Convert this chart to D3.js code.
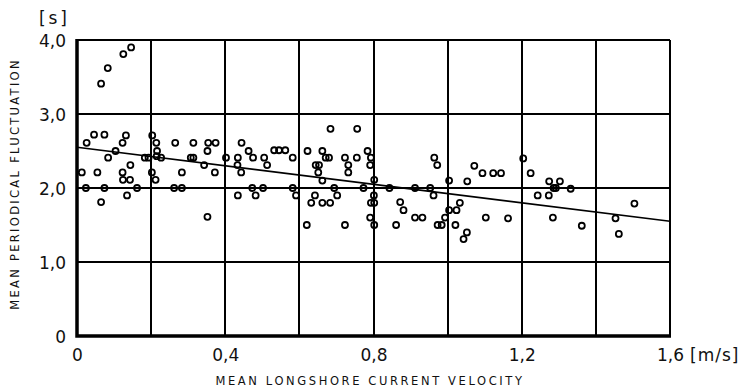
<!DOCTYPE html>
<html>
<head>
<meta charset="utf-8">
<script src="https://cdn.jsdelivr.net/npm/d3@7"></script>
<style>
  body { margin: 0; background: #fff; }
  svg { display: block; font-family: "DejaVu Sans", sans-serif; }
</style>
</head>
<body>
<svg id="chart" width="740" height="392"></svg>
<script>
// velocity [m/s], period [s]
const velocity = [
  0.065, 0.083, 0.125, 0.146,
  0.026, 0.046, 0.074, 0.132, 0.123, 0.104, 0.084, 0.013, 0.055, 0.144, 0.123, 0.124, 0.143, 0.024, 0.074, 0.162, 0.065, 0.135,
  0.203, 0.214, 0.216, 0.183, 0.193, 0.215, 0.227, 0.202, 0.212,
  0.265, 0.314, 0.307, 0.314, 0.283, 0.262, 0.283, 0.354, 0.374, 0.352, 0.343, 0.372, 0.352,
  0.402, 0.434, 0.433, 0.443, 0.444, 0.463, 0.475, 0.505, 0.513, 0.532, 0.545, 0.562, 0.582, 0.434, 0.473, 0.502, 0.482, 0.582, 0.591,
  0.622, 0.644, 0.653, 0.651, 0.642, 0.632, 0.620, 0.684, 0.756, 0.662, 0.671, 0.680, 0.662, 0.723, 0.732, 0.732, 0.755, 0.784, 0.793, 0.791, 0.694, 0.773, 0.662, 0.683, 0.702, 0.723,
  0.802, 0.801, 0.793, 0.802, 0.791, 0.802,
  0.843, 0.912, 0.953, 0.861, 0.872, 0.881, 0.912, 0.932, 0.964, 0.972, 0.962, 0.973, 0.984, 0.993,
  1.004, 1.004, 1.024, 1.033, 1.021, 1.052, 1.043, 1.053, 1.072, 1.094, 1.123, 1.144, 1.103, 1.163,
  1.204, 1.224, 1.274, 1.303, 1.286, 1.292, 1.243, 1.273, 1.284, 1.332, 1.362, 1.504, 1.453, 1.462
];
const period = [
  3.41, 3.62, 3.81, 3.90,
  2.61, 2.72, 2.72, 2.71, 2.61, 2.50, 2.41, 2.21, 2.21, 2.31, 2.21, 2.11, 2.11, 2.00, 2.00, 2.00, 1.81, 1.90,
  2.71, 2.61, 2.50, 2.41, 2.41, 2.43, 2.41, 2.21, 2.11,
  2.61, 2.61, 2.41, 2.41, 2.21, 2.00, 2.00, 2.61, 2.61, 2.50, 2.31, 2.21, 1.61,
  2.41, 2.41, 2.31, 2.21, 2.61, 2.50, 2.41, 2.41, 2.31, 2.51, 2.51, 2.51, 2.41, 1.90, 2.00, 2.00, 1.90, 2.00, 1.90,
  2.50, 2.31, 2.31, 2.21, 1.90, 1.80, 1.50, 2.80, 2.80, 2.50, 2.41, 2.41, 2.10, 2.41, 2.31, 2.21, 2.41, 2.50, 2.41, 2.31, 2.00, 2.00, 1.80, 1.80, 1.90, 1.50,
  2.11, 1.90, 1.80, 1.80, 1.60, 1.50,
  2.00, 2.00, 2.00, 1.50, 1.81, 1.70, 1.60, 1.60, 2.41, 2.31, 1.90, 1.50, 1.50, 1.60,
  2.10, 1.70, 1.70, 1.80, 1.50, 1.40, 1.31, 2.09, 2.30, 2.20, 2.20, 2.20, 1.60, 1.59,
  2.40, 2.20, 2.09, 2.09, 2.00, 2.00, 1.90, 1.90, 1.60, 1.99, 1.49, 1.79, 1.59, 1.38
];
// regression line end points
const fitX = [0, 1.6];
const fitY = [2.55, 1.55];

const xTicks = [0, 0.4, 0.8, 1.2, 1.6];
const xGrid = [0.2, 0.4, 0.6, 0.8, 1.0, 1.2, 1.4, 1.6];
const yTicks = [0, 1, 2, 3, 4];
const yGrid = [1, 2, 3, 4];

const svg = d3.select("#chart");
const plotL = 77, plotR = 670, plotT = 40, plotB = 336;

const x = d3.scaleLinear().domain([0, 1.6]).range([plotL, plotR]);
const y = d3.scaleLinear().domain([0, 4]).range([plotB, plotT]);

const fmt = d => d === 0 ? "0" : d3.format(".1f")(d).replace(".", ",");

// grid: plain lines, snapped to whole pixels
const grid = svg.append("g")
  .attr("stroke", "black").attr("stroke-width", 2)
  .attr("shape-rendering", "crispEdges");
grid.selectAll(".v").data(xGrid).join("line")
  .attr("class", "v")
  .attr("x1", d => Math.round(x(d))).attr("x2", d => Math.round(x(d)))
  .attr("y1", plotT).attr("y2", plotB);
grid.selectAll(".h").data(yGrid).join("line")
  .attr("class", "h")
  .attr("x1", plotL).attr("x2", plotR)
  .attr("y1", d => Math.round(y(d))).attr("y2", d => Math.round(y(d)));

// heavy left and bottom axis lines
svg.append("path")
  .attr("d", `M${plotL},${plotT - 1}V${plotB}H${plotR + 1}`)
  .attr("fill", "none").attr("stroke", "#000").attr("stroke-width", 3.5);

// tick labels
const xAxis = svg.append("g")
  .attr("transform", `translate(0,${plotB})`)
  .call(d3.axisBottom(x).tickValues(xTicks).tickSize(0).tickPadding(9).tickFormat(fmt));
const yAxis = svg.append("g")
  .attr("transform", `translate(${plotL},0)`)
  .call(d3.axisLeft(y).tickValues(yTicks).tickSize(0).tickPadding(11).tickFormat(fmt));
[xAxis, yAxis].forEach(a => {
  a.select(".domain").remove();
  a.selectAll("text").attr("font-size", 17).attr("fill", "#111")
    .attr("font-family", "'DejaVu Sans', sans-serif");
});
xAxis.selectAll("text").attr("dy", "0.95em");
yAxis.selectAll("text").attr("dy", "0.36em");

// unit labels
svg.append("text").attr("x", 70).attr("y", 24).attr("text-anchor", "end")
  .attr("font-size", 17).attr("fill", "#111").attr("letter-spacing", 3).text("[s]");
svg.append("text").attr("x", x(1.6) + 20).attr("y", plotB + 25)
  .attr("font-size", 17).attr("fill", "#111").attr("letter-spacing", 1).text("[m/s]");

// axis titles
svg.append("text").attr("x", 370).attr("y", 385).attr("text-anchor", "middle")
  .attr("font-size", 11.5).attr("letter-spacing", 2.6).attr("fill", "#111")
  .text("MEAN LONGSHORE CURRENT VELOCITY");
svg.append("text").attr("transform", "translate(19,184) rotate(-90)")
  .attr("text-anchor", "middle")
  .attr("font-size", 11.5).attr("letter-spacing", 2.3).attr("fill", "#111")
  .text("MEAN PERIODICAL FLUCTUATION");

// regression line
svg.append("path")
  .datum(d3.zip(fitX, fitY))
  .attr("fill", "none").attr("stroke", "#000").attr("stroke-width", 1.6)
  .attr("d", d3.line().x(d => x(d[0])).y(d => y(d[1])));

// observations
svg.append("g")
  .attr("fill", "none").attr("stroke", "#000").attr("stroke-width", 1.8)
  .selectAll("circle")
  .data(d3.zip(velocity, period))
  .join("circle")
  .attr("cx", d => x(d[0]))
  .attr("cy", d => y(d[1]))
  .attr("r", 3);
</script>
</body>
</html>
